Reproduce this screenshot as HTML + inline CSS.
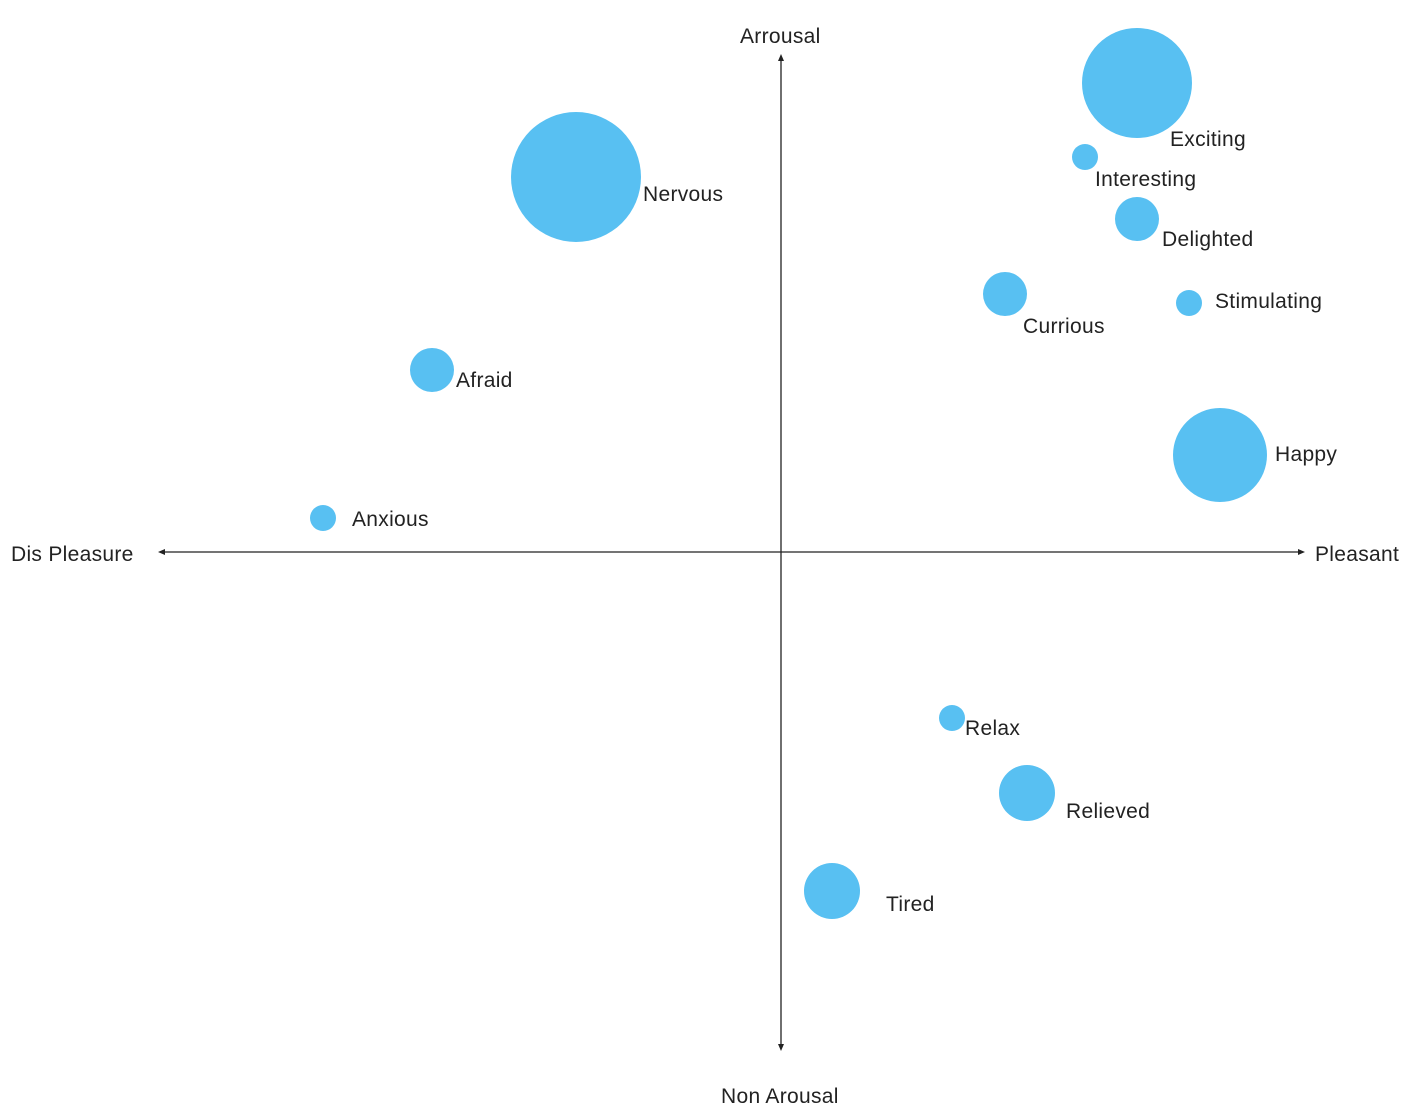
<!DOCTYPE html>
<html><head><style>
html,body{margin:0;padding:0;background:#fff;}
svg{display:block;}
text{font-family:"Liberation Sans",sans-serif;font-size:21px;letter-spacing:0.3px;fill:#222;}
</style></head><body>
<svg width="1417" height="1115" viewBox="0 0 1417 1115">
<g stroke="#222" stroke-width="1.3">
<line x1="161" y1="552" x2="1302" y2="552"/>
<line x1="781" y1="58" x2="781" y2="1048"/>
</g>
<g fill="#222">
<polygon points="158,552 165,549 165,555"/>
<polygon points="1305,552 1298,549 1298,555"/>
<polygon points="781,54 778,61 784,61"/>
<polygon points="781,1051 778,1044 784,1044"/>
</g>
<g fill="#58c0f2">
<circle cx="1137" cy="83" r="55"/>
<circle cx="1085" cy="157" r="13"/>
<circle cx="1137" cy="219" r="22"/>
<circle cx="1005" cy="294" r="22"/>
<circle cx="1189" cy="303" r="13"/>
<circle cx="576" cy="177" r="65"/>
<circle cx="432" cy="370" r="22"/>
<circle cx="323" cy="518" r="13"/>
<circle cx="1220" cy="455" r="47"/>
<circle cx="952" cy="718" r="13"/>
<circle cx="1027" cy="793" r="28"/>
<circle cx="832" cy="891" r="28"/>
</g>
<text x="740" y="43">Arrousal</text>
<text x="721" y="1103">Non Arousal</text>
<text x="11" y="561">Dis Pleasure</text>
<text x="1315" y="561">Pleasant</text>
<text x="1170" y="146">Exciting</text>
<text x="1095" y="186">Interesting</text>
<text x="1162" y="246">Delighted</text>
<text x="1023" y="333">Currious</text>
<text x="1215" y="308">Stimulating</text>
<text x="643" y="201">Nervous</text>
<text x="456" y="387">Afraid</text>
<text x="352" y="526">Anxious</text>
<text x="1275" y="461">Happy</text>
<text x="965" y="735">Relax</text>
<text x="1066" y="818">Relieved</text>
<text x="886" y="911">Tired</text>
</svg>
</body></html>
